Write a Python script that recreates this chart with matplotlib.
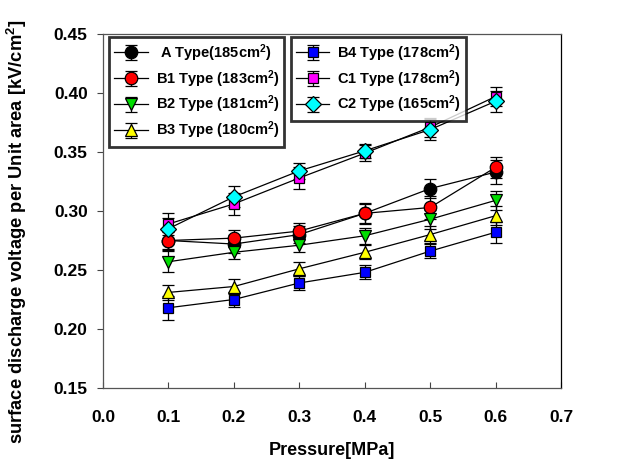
import matplotlib
matplotlib.use('Agg')
import matplotlib.pyplot as plt

plt.rcParams['font.family'] = 'Liberation Sans'
plt.rcParams['font.weight'] = 'bold'
plt.rcParams['mathtext.fontset'] = 'custom'
plt.rcParams['mathtext.bf'] = 'Liberation Sans:bold'
plt.rcParams['mathtext.rm'] = 'Liberation Sans:bold'
plt.rcParams['mathtext.default'] = 'bf'

pressure = [0.1, 0.2, 0.3, 0.4, 0.5, 0.6]

labels = [' A Type(185cm$^2$)', 'B1 Type (183cm$^2$)', 'B2 Type (181cm$^2$)',
          'B3 Type (180cm$^2$)', 'B4 Type (178cm$^2$)', 'C1 Type (178cm$^2$)',
          'C2 Type (165cm$^2$)']

a_type = [0.275, 0.272, 0.280, 0.298, 0.319, 0.333]
b1_type = [0.275, 0.277, 0.283, 0.298, 0.303, 0.337]
b2_type = [0.257, 0.265, 0.271, 0.279, 0.293, 0.309]
b3_type = [0.231, 0.236, 0.251, 0.265, 0.280, 0.296]
b4_type = [0.218, 0.225, 0.239, 0.248, 0.266, 0.282]
c1_type = [0.289, 0.306, 0.328, 0.349, 0.371, 0.397]
c2_type = [0.285, 0.312, 0.334, 0.351, 0.369, 0.393]

a_err = [0.008, 0.008, 0.007, 0.008, 0.008, 0.010]
b1_err = [0.007, 0.007, 0.007, 0.009, 0.010, 0.009]
b2_err = [0.009, 0.006, 0.006, 0.007, 0.008, 0.008]
b3_err = [0.006, 0.006, 0.006, 0.006, 0.007, 0.008]
b4_err = [0.010, 0.006, 0.006, 0.006, 0.006, 0.009]
c1_err = [0.009, 0.009, 0.009, 0.007, 0.008, 0.008]
c2_err = [0.009, 0.009, 0.007, 0.006, 0.009, 0.009]

series = [a_type, b1_type, b2_type, b3_type, b4_type, c1_type, c2_type]
errors = [a_err, b1_err, b2_err, b3_err, b4_err, c1_err, c2_err]
colors = ['black', 'red', '#00dd00', 'yellow', 'blue', 'magenta', 'cyan']
markers = ['o', 'o', 'v', '^', 's', 's', 'D']
sizes = [9, 9, 8.5, 8.5, 7.5, 7.5, 8]

fig = plt.figure(figsize=(6.19, 4.61), dpi=100)
ax = fig.add_axes([103 / 619, 73 / 461, 458 / 619, 354 / 461])

handles = []
for y, e, c, m, s, lab in zip(series, errors, colors, markers, sizes, labels):
    h = ax.errorbar(pressure, y, yerr=e, color='black', lw=0.9, marker=m, ms=s,
                    mfc=c, mec='black', mew=0.9, ecolor='black', elinewidth=0.9,
                    capsize=4, capthick=0.9, label=lab)
    handles.append(h)

ax.set_xlim(0, 0.7)
ax.set_ylim(0.15, 0.45)
ax.set_xticks([0.0, 0.1, 0.2, 0.3, 0.4, 0.5, 0.6, 0.7])
ax.set_yticks([0.15, 0.20, 0.25, 0.30, 0.35, 0.40, 0.45])
ax.xaxis.set_major_formatter(plt.FormatStrFormatter('%.1f'))
ax.yaxis.set_major_formatter(plt.FormatStrFormatter('%.2f'))
ax.tick_params(axis='x', direction='in', length=4, labelsize=12.5, pad=16, color='#444444')
ax.tick_params(axis='y', direction='out', length=4, labelsize=12.5, pad=7, color='#444444')
for sp in ax.spines.values():
    sp.set_color('#555555')
    sp.set_linewidth(0.9)
ax.spines['right'].set_color('black')

ax.set_xlabel('Pressure[MPa]', fontsize=13, fontweight='bold', labelpad=12)
ax.set_ylabel('surface discharge voltage per Unit area [kV/cm$^2$]',
              fontsize=13.2, fontweight='bold')
ax.yaxis.set_label_coords(-0.162, 0.44)

leg_kw = dict(loc='upper left', fontsize=10.5, frameon=True, fancybox=False,
              borderaxespad=0, handlelength=2.3, labelspacing=0.3, borderpad=0.35,
              handletextpad=0.55)
leg1 = ax.legend(handles=handles[:4], bbox_to_anchor=(0.013, 0.992), **leg_kw)
leg1.get_frame().set_edgecolor('black')
leg1.get_frame().set_linewidth(2)
ax.add_artist(leg1)
leg2 = ax.legend(handles=handles[4:], bbox_to_anchor=(0.41, 0.992), **leg_kw)
leg2.get_frame().set_edgecolor('black')
leg2.get_frame().set_linewidth(2)

fig.savefig('out.png', dpi=100)
